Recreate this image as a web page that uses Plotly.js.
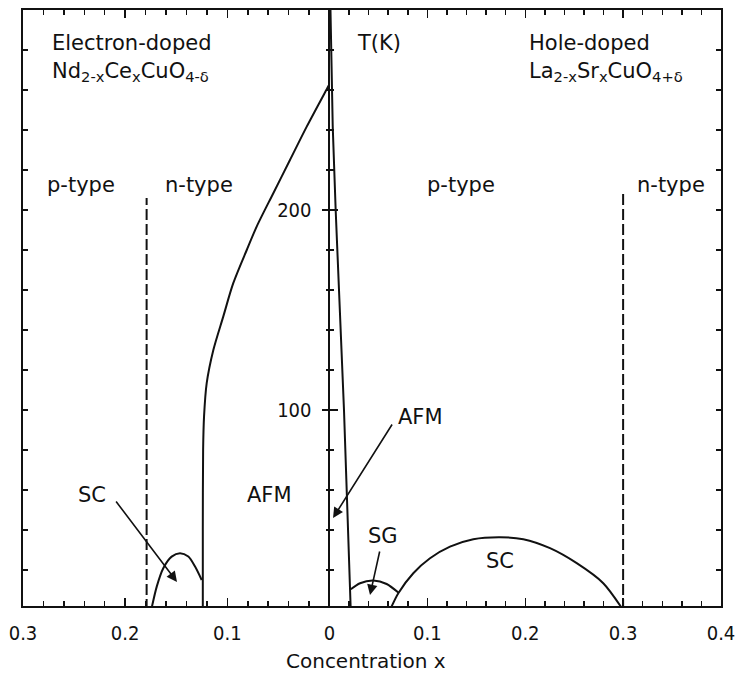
<!DOCTYPE html>
<html>
<head>
<meta charset="utf-8">
<script src="https://cdn.plot.ly/plotly-3.0.1.min.js"></script>
<style>
  html, body { margin: 0; padding: 0; background: #fff; }
  #chart { width: 741px; height: 678px; }
</style>
</head>
<body>
<div id="chart"></div>
<script>
// ---------- Data ----------
// Electron-doped side: Nd2-xCexCuO4-d  (x axis runs 0.3 -> 0, left half)
const nccoAfmX = [0.0, 0.0022, 0.0223, 0.0387, 0.055, 0.0713, 0.081, 0.0942, 0.104, 0.1137, 0.1202, 0.1228, 0.1237, 0.124, 0.124];
const nccoAfmT = [263, 260.9, 241.7, 225, 208.4, 191.7, 180, 163.4, 146.7, 130, 113.4, 96.7, 80, 40, 0];
const nccoScX  = [0.1745, 0.1691, 0.1627, 0.1545, 0.1463, 0.1382, 0.1316, 0.1251];
const nccoScT  = [0, 11.7, 20.9, 26.7, 28.4, 26.7, 21.7, 15];
const nccoTypeX = [0.179, 0.179];
const nccoTypeT = [0, 206];

// Hole-doped side: La2-xSrxCuO4+d  (x axis runs 0 -> 0.4, right half)
const lscoAfmX = [0.001, 0.0033, 0.0063, 0.0148, 0.0217];
const lscoAfmT = [300, 241.7, 200, 100, 0];
const lscoSgX  = [0.0217, 0.0312, 0.0448, 0.0584, 0.0703];
const lscoSgT  = [10.4, 13.4, 14.7, 13, 8.7];
const lscoScX  = [0.0618, 0.0703, 0.0856, 0.1027, 0.1231, 0.1469, 0.1742, 0.198, 0.2253, 0.2526, 0.2797, 0.3];
const lscoScT  = [0, 8.4, 18.4, 25.9, 31.7, 35.4, 36.4, 35.4, 30.9, 23.4, 13.4, 0];
const lscoTypeX = [0.3, 0.3];
const lscoTypeT = [0, 208];

// Tick labels
const leftTickVals  = [0.3, 0.2, 0.1];
const leftTickText  = ['0.3', '0.2', '0.1'];
const rightTickVals = [0, 0.1, 0.2, 0.3, 0.4];
const rightTickText = ['0', '0.1', '0.2', '0.3', '0.4'];
const tTickVals = [100, 200];
const tTickText = ['100', '200'];

// ---------- helpers ----------
const between = (a, b, s) => { const r = []; for (let v = a; v <= b + 1e-9; v += s) r.push(+v.toFixed(4)); return r; };
const leftMinor  = between(0.02, 0.28, 0.02).filter(v => Math.abs(v - 0.1) > 1e-6 && Math.abs(v - 0.2) > 1e-6);
const rightMinor = between(0.02, 0.38, 0.02).filter(v => [0.1, 0.2, 0.3].every(m => Math.abs(v - m) > 1e-6));
const tAll   = between(20, 280, 20);
const tMinor = tAll.filter(v => v !== 100 && v !== 200);

const W = 741, H = 678;
const M = { l: 23, r: 20, t: 10, b: 72 };
const PW = W - M.l - M.r, PH = H - M.t - M.b;
const SPLIT = (329.5 - M.l) / PW;
const P = px => (px - M.l) / PW;         // page px -> paper x
const Q = py => (H - M.b - py) / PH;     // page px -> paper y

const FONT = 'DejaVu Sans, sans-serif';
const TFONT = '"DejaVu Sans Condensed", "DejaVu Sans", sans-serif';
const BLACK = '#111';

const line = (x, y, xa, ya, extra) => Object.assign({
  x, y, xaxis: xa, yaxis: ya, type: 'scatter', mode: 'lines',
  line: { color: BLACK, width: 2, shape: 'spline', smoothing: 0.8 },
  hoverinfo: 'skip', showlegend: false
}, extra || {});

const traces = [
  line(nccoAfmX, nccoAfmT, 'x', 'y'),
  line(nccoScX, nccoScT, 'x', 'y3'),
  line(nccoTypeX, nccoTypeT, 'x3', 'y', { line: { color: BLACK, width: 2, dash: '11px,4px' } }),
  line(lscoAfmX, lscoAfmT, 'x2', 'y2', { line: { color: BLACK, width: 2 } }),
  line(lscoSgX, lscoSgT, 'x2', 'y2'),
  line(lscoScX, lscoScT, 'x2', 'y4'),
  line(lscoTypeX, lscoTypeT, 'x4', 'y2', { line: { color: BLACK, width: 2, dash: '11px,4px' } })
];

const yRange = [2, 300];
const baseX = {
  showgrid: false, zeroline: false, showline: true, linecolor: BLACK, linewidth: 2,
  ticks: 'inside', ticklen: 8, tickwidth: 1.5, tickcolor: BLACK,
  tickmode: 'array', tickfont: { family: TFONT, size: 20, color: BLACK },
  ticklabelstandoff: 8, fixedrange: true
};
const baseY = {
  range: yRange, domain: [0, 1], showgrid: false, zeroline: false, fixedrange: true,
  linecolor: BLACK, linewidth: 2, tickcolor: BLACK, tickwidth: 1.5, tickmode: 'array'
};
const minorX = vals => ({ tickvals: vals, ticks: 'inside', ticklen: 5, tickwidth: 1.5, tickcolor: BLACK });

const layout = {
  width: W, height: H, margin: M,
  paper_bgcolor: '#fff', plot_bgcolor: 'rgba(0,0,0,0)',
  showlegend: false,
  font: { family: FONT, size: 21, color: BLACK },
  // bottom axes (left half reversed, right half normal)
  xaxis: Object.assign({}, baseX, { domain: [0, SPLIT], range: [0.3, 0], anchor: 'y', side: 'bottom',
    tickvals: leftTickVals, ticktext: leftTickText, minor: minorX(leftMinor) }),
  xaxis2: Object.assign({}, baseX, { domain: [SPLIT, 1], range: [0, 0.4], anchor: 'y2', side: 'bottom',
    tickvals: rightTickVals, ticktext: rightTickText, minor: minorX(rightMinor) }),
  // top border ticks
  xaxis3: Object.assign({}, baseX, { overlaying: 'x', range: [0.3, 0], anchor: 'y', side: 'top',
    tickvals: leftTickVals, showticklabels: false, minor: minorX(leftMinor) }),
  xaxis4: Object.assign({}, baseX, { overlaying: 'x2', range: [0, 0.4], anchor: 'y2', side: 'top',
    tickvals: rightTickVals, showticklabels: false, minor: minorX(rightMinor) }),
  // left border
  yaxis: Object.assign({}, baseY, { anchor: 'x', side: 'left', showline: true, ticks: 'inside', ticklen: 5,
    tickvals: tAll, showticklabels: false }),
  // centre line (x = 0), labelled T axis
  yaxis2: Object.assign({}, baseY, { anchor: 'x2', side: 'left', showline: true, ticks: 'inside', ticklen: 8,
    tickvals: tTickVals, ticktext: tTickText, showticklabels: true,
    tickfont: { family: TFONT, size: 20, color: BLACK }, ticklabelstandoff: 12,
    minor: { tickvals: tMinor, ticks: 'inside', ticklen: 4, tickwidth: 1.5, tickcolor: BLACK } }),
  // centre ticks pointing into the left half
  yaxis3: Object.assign({}, baseY, { anchor: 'x', overlaying: 'y', side: 'right', showline: false, ticks: 'inside', ticklen: 8,
    tickvals: tTickVals, showticklabels: false,
    minor: { tickvals: tMinor, ticks: 'inside', ticklen: 4, tickwidth: 1.5, tickcolor: BLACK } }),
  // right border
  yaxis4: Object.assign({}, baseY, { anchor: 'x2', overlaying: 'y2', side: 'right', showline: true, ticks: 'inside', ticklen: 5,
    tickvals: tAll, showticklabels: false }),
  annotations: []
};

const txt = (text, xp, yp, xanchor) => ({
  text, xref: 'paper', yref: 'paper', x: P(xp), y: Q(yp),
  xanchor: xanchor || 'left', yanchor: 'middle', showarrow: false,
  font: { family: FONT, size: 21, color: BLACK }
});
const arrow = (xa, ya, hx, hy, tx, ty) => ({
  text: '', xref: xa, yref: ya, axref: xa, ayref: ya,
  x: hx, y: hy, ax: tx, ay: ty, showarrow: true,
  arrowhead: 2, arrowsize: 1.3, arrowwidth: 1.6, arrowcolor: BLACK, standoff: 0, startstandoff: 0
});

layout.annotations.push(
  txt('Electron-doped', 50, 43),
  txt('Nd<sub>2-x</sub>Ce<sub>x</sub>CuO<sub>4-δ</sub>', 50, 72),
  txt('T(K)', 355, 43),
  txt('Hole-doped', 527, 43),
  txt('La<sub>2-x</sub>Sr<sub>x</sub>CuO<sub>4+δ</sub>', 527, 72),
  txt('p-type', 45, 185),
  txt('n-type', 163, 185),
  txt('p-type', 425, 185),
  txt('n-type', 635, 185),
  txt('SC', 92, 495, 'center'),
  txt('AFM', 269, 495, 'center'),
  txt('AFM', 420, 417, 'center'),
  txt('SG', 383, 536, 'center'),
  txt('SC', 500, 561, 'center'),
  Object.assign(txt('Concentration x', 366, 661, 'center'), { font: { family: FONT, size: 20, color: BLACK } }),
  arrow('x', 'y', 0.1493, 14, 0.21, 55),
  arrow('x2', 'y2', 0.0036, 46, 0.0649, 93.5),
  arrow('x2', 'y2', 0.0414, 7.5, 0.0516, 30)
);

Plotly.newPlot('chart', traces, layout, { staticPlot: true, displayModeBar: false });
</script>
</body>
</html>
